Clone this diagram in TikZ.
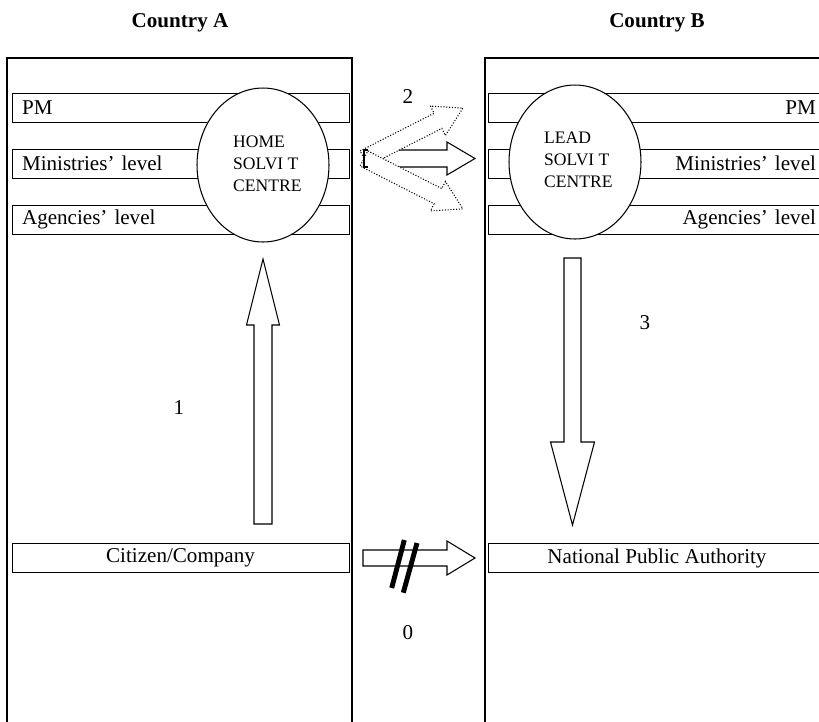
\documentclass[tikz,border=0pt]{standalone}
\usepackage{fontspec}
\setmainfont{Liberation Serif}
\usetikzlibrary{shapes.geometric}

\tikzset{
  pics/blockarr/.style n args={4}{% comprimento, base da ponta, meia largura haste, meia largura ponta
    code={\path[pic actions] (0,-#3) -- (#2,-#3) -- (#2,-#4) -- (#1,0)
      -- (#2,#4) -- (#2,#3) -- (0,#3) -- cycle;}
  }
}

\begin{document}
\begin{tikzpicture}[
  x=0.02cm, y=-0.02cm,
  column/.style={line width=0.8pt},
  levelbox/.style={draw, line width=0.5pt, minimum height=0.58cm,
    inner xsep=0.2cm, inner ysep=0pt},
  boxA/.style={minimum width=6.74cm, text width=6.34cm, align=left},
  boxB/.style={minimum width=6.76cm, text width=6.36cm, align=right},
  centre/.style={draw, ellipse, fill=white, line width=0.6pt,
    minimum width=2.64cm, minimum height=3.08cm},
  centretext/.style={anchor=west, align=left, font=\fontsize{10}{12.4}\selectfont},
  blockarrow/.style={draw, fill=white, line width=0.6pt, line join=miter},
  slash/.style={line width=2.8pt},
  every node/.style={font=\fontsize{12}{14}\selectfont}
]
\useasboundingbox (0,0) rectangle (819,721);
\clip (0,0) rectangle (819,721);

% ==========================================================
% Colunas dos dois países
% ==========================================================
\node[font=\bfseries\fontsize{12}{14}\selectfont] (ctyA) at (180,23) {Country A};
\node[font=\bfseries\fontsize{12}{14}\selectfont] (ctyB) at (657,23) {Country B};

\draw[column] (7,740) -- (7,58) -- (352,58) -- (352,740);
\draw[column] (485,740) -- (485,58) -- (840,58);

% ==========================================================
% Níveis da administração
% ==========================================================
\foreach \y/\txt/\nm in {107.5/PM/pm, 163.5/Ministries' level/min,
                         219.5/Agencies' level/ag}{
  \node[levelbox, boxA] (\nm A) at (180.5,\y) {\txt};
  \node[levelbox, boxB] (\nm B) at (657,\y) {\txt};
}

\node[levelbox, minimum width=6.74cm] (citA) at (180.5,558) {Citizen/Company};
\node[levelbox, minimum width=6.76cm] (npaB) at (657,558) {National Public Authority};

% ==========================================================
% Centros SOLVIT
% ==========================================================
\node[centre] (homeC) at (263,165) {};
\node[centretext] (homeT) at (227,164) {HOME\\SOLVI T\\CENTRE};

\node[centre] (leadC) at (575,162) {};
\node[centretext] (leadT) at (538,160) {LEAD\\SOLVI T\\CENTRE};

% ==========================================================
% Setas
% ==========================================================
% 1: cidadão -> centro de origem
\pic[blockarrow, rotate=90] (arrOne) at (263,524) {blockarr={265}{199}{9}{16.5}};
\node (labOne) at (179,408) {1};

% 2: centro de origem -> centro responsável
\pic[blockarrow] (arrTwo) at (364,158.5) {blockarr={111}{83}{8.5}{16.5}};
\pic[blockarrow, densely dotted, rotate=27] (arrTwoUp) at (364,158.5) {blockarr={111}{83}{8.5}{16.5}};
\pic[blockarrow, densely dotted, rotate=-27] (arrTwoDn) at (364,158.5) {blockarr={111}{83}{8.5}{16.5}};
\draw[line width=0.8pt] (368,150) -- (364,150) -- (364,167) -- (368,167);
\node (labTwo) at (408,97) {2};

% 3: centro responsável -> autoridade
\pic[blockarrow, rotate=-90] (arrThree) at (572.5,258) {blockarr={267}{184}{8.5}{22}};
\node (labThree) at (645,323) {3};

% 0: caminho direto bloqueado
\pic[blockarrow] (arrZero) at (363,558) {blockarr={112}{84}{8}{17}};
\draw[slash] (391.7,588) -- (404.3,540);
\draw[slash] (403.3,592.7) -- (417,543);
\node (labZero) at (408,633) {0};

\end{tikzpicture}
\end{document}
